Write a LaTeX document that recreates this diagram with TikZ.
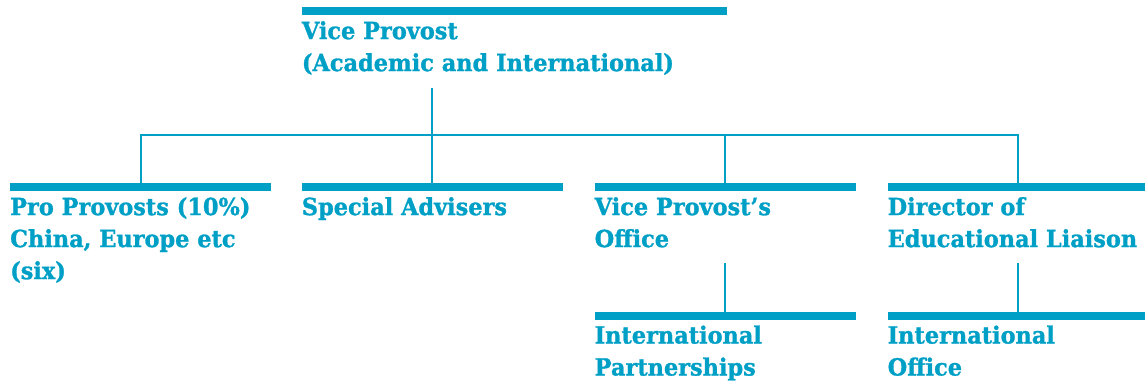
\documentclass[tikz,border=0pt]{standalone}
\usepackage{fontspec}
\setmainfont{DejaVu Serif}[FakeStretch=0.95, BoldFeatures={FakeBold=1.2}]
\usetikzlibrary{positioning}
\definecolor{brand}{RGB}{0,160,198}
\tikzset{x=1pt, y=-1pt,
	bar/.style = {fill=brand, inner sep=0, minimum height=7.7pt, anchor=north west},
	unit/.style = {text=brand, inner sep=0, anchor=north west, align=left, text height=23.5pt,
		text width=430pt, font=\bfseries\fontsize{23.6}{32}\selectfont},
	link/.style = {draw=brand, line width=2pt}}

\begin{document}
\begin{tikzpicture}
			\useasboundingbox (0,0) rectangle (1145,382);
			\node (VPbar) [bar, minimum width=424.6pt] at (301.7,7.3) {};
			\node (VP) [unit] at (VPbar.south west) {Vice Provost\\(Academic and International)};
			\node (PPbar) [bar, minimum width=261pt] at (10,183.3) {};
			\node (PP) [unit] at (PPbar.south west) {Pro Provosts (10\%)\\China, Europe etc\\(six)};
			\node (SAbar) [bar, minimum width=261pt] at (301.7,183.3) {};
			\node (SA) [unit] at (SAbar.south west) {Special Advisers};
			\node (VObar) [bar, minimum width=261pt] at (594.5,183.3) {};
			\node (VO) [unit] at (VObar.south west) {Vice Provost’s\\Office};
			\node (DLbar) [bar, minimum width=261pt] at (887.5,183.3) {};
			\node (DL) [unit] at (DLbar.south west) {Director of\\Educational Liaison};
			\node (IPbar) [bar, minimum width=261pt] at (594.5,311.7) {};
			\node (IP) [unit] at (IPbar.south west) {International\\Partnerships};
			\node (IObar) [bar, minimum width=261pt] at (887.5,311.7) {};
			\node (IO) [unit] at (IObar.south west) {International\\Office};
			% free ends of the connectors
			\coordinate (VPfoot) at (432.3,88);
			\coordinate (hub) at (432.3,135);
			\coordinate (VOfoot) at (VObar.north |- 0,263.3);
			\coordinate (DLfoot) at (DLbar.north |- 0,263.3);
			\path[link] (VPfoot) -- (hub)
			(PPbar.north) -- (PPbar.north |- hub) -- (DLbar.north |- hub) -- (DLbar.north)
			(SAbar.north |- hub) -- (SAbar.north)
			(VObar.north |- hub) -- (VObar.north)
			(VOfoot) -- (IPbar.north)
			(DLfoot) -- (IObar.north);
		\end{tikzpicture}
\end{document}
